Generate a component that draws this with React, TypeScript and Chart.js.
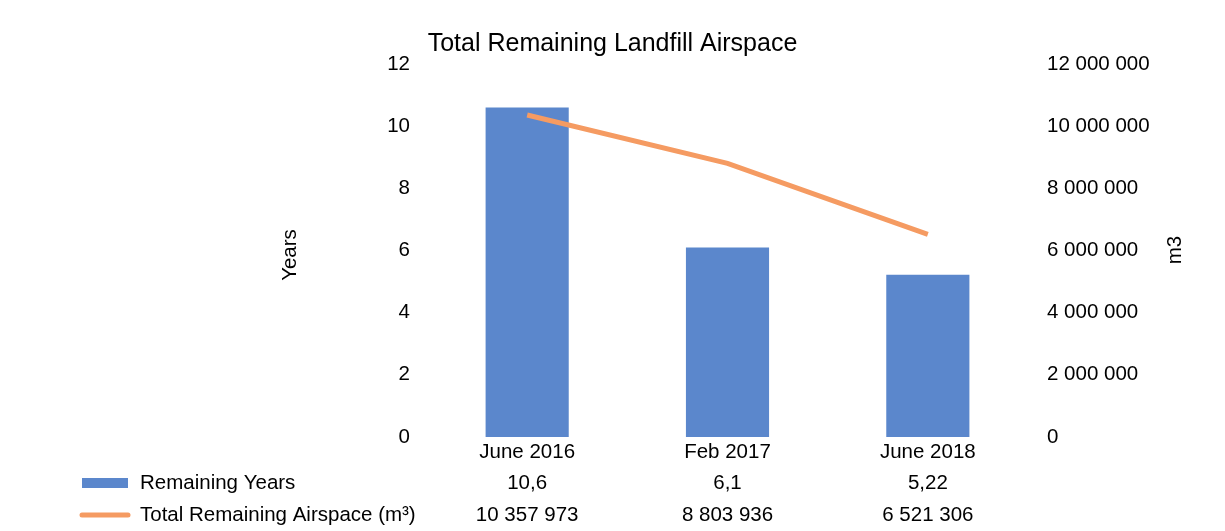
import React, { useEffect, useRef } from "react";
import { Chart, registerables } from "chart.js";

Chart.register(...registerables);

const categories = ["June 2016", "Feb 2017", "June 2018"];
const remainingYears = [10.6, 6.1, 5.22];
const remainingAirspace = [10357973, 8803936, 6521306];
const yearsTicks = { min: 0, max: 12, step: 2 };
const airspaceTicks = { min: 0, max: 12000000, step: 2000000 };

const titleText = "Total Remaining Landfill Airspace";
const seriesYearsName = "Remaining Years";
const seriesAirspaceName = "Total Remaining Airspace (m³)";
const leftAxisTitle = "Years";
const rightAxisTitle = "m3";

const BAR_COLOR = "#5B87CC";
const LINE_COLOR = "#F59B62";
const FONT = "'Liberation Sans', Arial, sans-serif";
const FS = 20.5;

const spaced = (n: number) => String(Math.round(n)).replace(/\B(?=(\d{3})+(?!\d))/g, " ");
const comma = (n: number) => String(n).replace(".", ",");

const tablePlugin = {
  id: "tablePlugin",
  afterDraw(chart: any) {
    const ctx = chart.ctx;
    const x = chart.scales.x;
    const top = x.top;
    ctx.save();
    ctx.fillStyle = "#000";
    ctx.font = `${FS}px ${FONT}`;
    ctx.textBaseline = "middle";
    // axis titles
    ctx.save();
    ctx.translate(290, 255);
    ctx.rotate(-Math.PI / 2);
    ctx.textAlign = "center";
    ctx.fillText(leftAxisTitle, 0, 0);
    ctx.restore();
    ctx.save();
    ctx.translate(1175, 250);
    ctx.rotate(-Math.PI / 2);
    ctx.textAlign = "center";
    ctx.fillText(rightAxisTitle, 0, 0);
    ctx.restore();

    const row1 = top + 46;
    const row2 = top + 78;
    // legend swatches
    ctx.fillStyle = BAR_COLOR;
    ctx.fillRect(82, row1 - 5, 46, 10);
    ctx.strokeStyle = LINE_COLOR;
    ctx.lineWidth = 5;
    ctx.lineCap = "round";
    ctx.beginPath();
    ctx.moveTo(82, row2);
    ctx.lineTo(128, row2);
    ctx.stroke();
    ctx.fillStyle = "#000";
    ctx.textAlign = "left";
    ctx.fillText(seriesYearsName, 140, row1);
    ctx.fillText(seriesAirspaceName, 140, row2);
    ctx.textAlign = "center";
    categories.forEach((_, i) => {
      const px = x.getPixelForValue(i);
      ctx.fillText(comma(remainingYears[i]), px, row1);
      ctx.fillText(spaced(remainingAirspace[i]), px, row2);
    });
    ctx.restore();
  },
};

export default function App() {
  const ref = useRef<HTMLCanvasElement>(null);
  useEffect(() => {
    if (!ref.current) return;
    const chart = new Chart(ref.current, {
      type: "bar",
      data: {
        labels: categories,
        datasets: [
          {
            type: "line",
            label: seriesAirspaceName,
            data: remainingAirspace,
            yAxisID: "y1",
            borderColor: LINE_COLOR,
            backgroundColor: LINE_COLOR,
            borderWidth: 5,
            pointRadius: 0,
            tension: 0,
            order: 0,
          } as any,
          {
            type: "bar",
            label: seriesYearsName,
            data: remainingYears,
            yAxisID: "y",
            backgroundColor: BAR_COLOR,
            categoryPercentage: 1,
            barPercentage: 0.415,
            order: 1,
          },
        ],
      },
      options: {
        responsive: false,
        animation: false,
        layout: { padding: { left: 0, right: 0, top: 0, bottom: 0 } },
        plugins: {
          legend: { display: false },
          tooltip: { enabled: false },
          title: {
            display: true,
            text: titleText,
            color: "#000",
            font: { family: FONT, size: 25, weight: "normal" },
            padding: { top: 29, bottom: 5 },
          },
        },
        scales: {
          x: {
            grid: { display: false, drawTicks: false },
            border: { display: false },
            ticks: {
              color: "#000",
              font: { family: FONT, size: FS },
              padding: 3,
              maxRotation: 0,
            },
            afterFit: (s: any) => {
              s.height = 94;
            },
          },
          y: {
            position: "left",
            min: yearsTicks.min,
            max: yearsTicks.max,
            grid: { display: false, drawTicks: false },
            border: { display: false },
            ticks: {
              stepSize: yearsTicks.step,
              color: "#000",
              font: { family: FONT, size: FS },
              padding: 17,
            },
            afterFit: (s: any) => {
              s.width = 427;
            },
          },
          y1: {
            position: "right",
            min: airspaceTicks.min,
            max: airspaceTicks.max,
            grid: { display: false, drawTicks: false },
            border: { display: false },
            ticks: {
              stepSize: airspaceTicks.step,
              color: "#000",
              font: { family: FONT, size: FS },
              padding: 19,
              callback: (v: any) => spaced(Number(v)),
            },
            afterFit: (s: any) => {
              s.width = 197;
            },
          },
        },
      },
      plugins: [tablePlugin],
    });
    return () => chart.destroy();
  }, []);
  return (
    <div style={{ position: "absolute", left: 0, top: 0, width: 1225, height: 531, background: "#fff" }}>
      <canvas ref={ref} width={1225} height={531} style={{ display: "block" }} />
    </div>
  );
}
